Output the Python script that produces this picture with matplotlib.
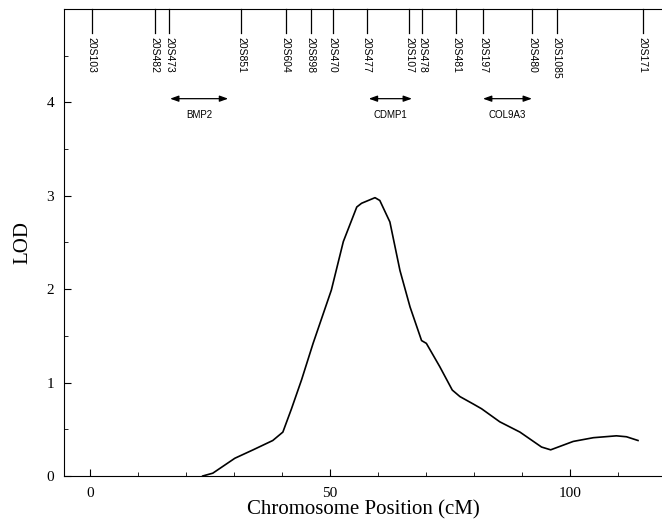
import matplotlib
matplotlib.use("Agg")
import matplotlib.pyplot as plt
from matplotlib.ticker import MultipleLocator

# LOD curve (cM, LOD)
pos_cm = [23.5, 25.6, 30.2, 34.0, 38.1, 40.2, 42.0, 44.1, 46.5, 50.3, 52.8,
          55.6, 56.6, 59.4, 60.4, 62.5, 64.6, 66.7, 69.1, 70.1, 72.9, 75.5,
          77.1, 79.9, 81.6, 85.4, 89.6, 94.1, 96.0, 100.7, 104.9, 109.7,
          111.8, 114.2]
lod = [0.0, 0.03, 0.19, 0.28, 0.38, 0.47, 0.72, 1.03, 1.42, 1.99, 2.51,
       2.88, 2.92, 2.98, 2.95, 2.72, 2.20, 1.81, 1.45, 1.42, 1.17, 0.92,
       0.85, 0.77, 0.72, 0.58, 0.47, 0.31, 0.28, 0.37, 0.41, 0.43,
       0.42, 0.38]

# markers along the top
marker_names = ["20S103", "20S482", "20S473", "20S851", "20S604", "20S898",
                "20S470", "20S477", "20S107", "20S478", "20S481", "20S197",
                "20S480", "20S1085", "20S171"]
marker_cm = [0.4, 13.5, 16.5, 31.5, 40.8, 46.0, 50.6, 57.7, 66.5, 69.2,
             76.3, 81.9, 92.1, 97.3, 115.2]

# candidate genes (start, end)
gene_names = ["BMP2", "CDMP1", "COL9A3"]
gene_start = [16.7, 58.1, 81.9]
gene_end = [28.8, 67.1, 92.1]

serif = "Liberation Serif"
sans = "Liberation Sans"

fig = plt.figure(figsize=(6.62, 5.21), dpi=100)
ax = fig.add_axes([0.0967, 0.0864, 0.9033, 0.8963])

ax.plot(pos_cm, lod, color="black", lw=1.2)

ax.set_xlim(-5.4, 119.2)
ax.set_ylim(0, 5.0)

for name, x in zip(marker_names, marker_cm):
    ax.plot([x, x], [5.0, 4.74], color="black", lw=0.9, clip_on=False)
    ax.text(x, 4.70, name, rotation=270, ha="center", va="top",
            fontsize=7.5, family=sans)

for name, a, b in zip(gene_names, gene_start, gene_end):
    ax.annotate("", xy=(a, 4.04), xytext=(b, 4.04),
                arrowprops=dict(arrowstyle="<|-|>,head_length=0.5,head_width=0.18",
                                color="black", lw=0.9, shrinkA=0, shrinkB=0))
    ax.text((a + b) / 2, 3.87, name, ha="center", va="center",
            fontsize=7, family=sans)

ax.spines["right"].set_visible(False)
ax.xaxis.set_major_locator(MultipleLocator(50))
ax.xaxis.set_minor_locator(MultipleLocator(10))
ax.yaxis.set_minor_locator(MultipleLocator(0.5))
ax.set_yticks([0, 1, 2, 3, 4])
ax.tick_params(which="both", direction="in", top=False, right=False)
ax.tick_params(which="major", length=5, labelsize=11)
ax.tick_params(which="minor", length=3)
ax.tick_params(axis="x", pad=8)
ax.tick_params(axis="y", pad=7)
for lab in ax.get_xticklabels() + ax.get_yticklabels():
    lab.set_family(serif)

ax.set_xlabel("Chromosome Position (cM)", family=serif, fontsize=15, labelpad=0)
ax.set_ylabel("LOD", family=serif, fontsize=15, labelpad=10)

fig.savefig("out.png", dpi=100)
